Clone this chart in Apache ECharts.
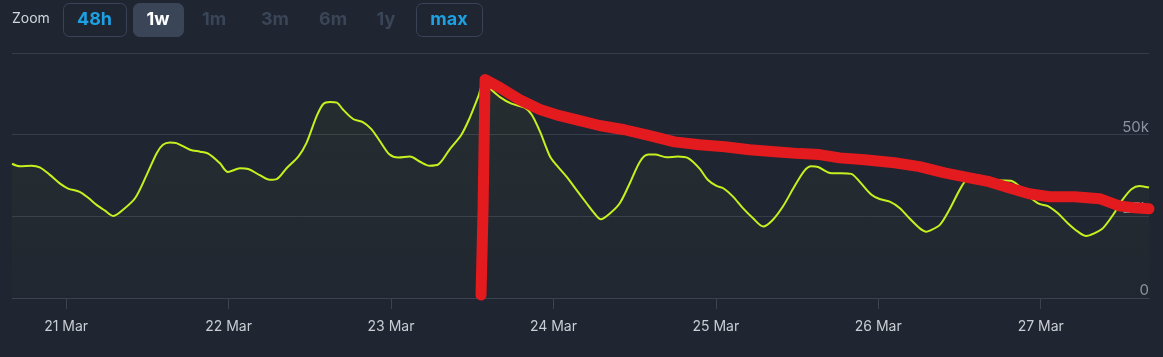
<!DOCTYPE html>
<html>
<head>
<meta charset="utf-8">
<script src="https://cdn.jsdelivr.net/npm/echarts@6/dist/echarts.min.js"></script>
<style>
  html, body { margin: 0; padding: 0; background: #1f2531; }
  #chart { width: 1163px; height: 357px; }
</style>
</head>
<body>
<div id="chart"></div>
<script>
// Hours since 20 Mar 16:00 (one-week window ending 27 Mar 16:00)
const playerHours = [0, 1.2, 2.9, 4.1, 5.6, 7.1, 8.3, 10.0, 11.3, 12.5, 13.7, 15.0, 16.4, 18.2, 19.9, 21.4, 22.3, 23.3, 24.3, 26.3, 27.8, 29.0, 30.7, 31.9, 33.7, 34.9, 36.6, 38.1, 39.1, 40.6, 42.3, 43.5, 45.0, 46.0, 47.0, 48.0, 48.9, 50.4, 51.9, 53.1, 54.4, 55.8, 57.1, 58.8, 60.3, 61.7, 63.0, 64.7, 66.4, 67.6, 68.9, 69.7, 70.7, 72.1, 73.8, 75.8, 76.8, 78.0, 79.5, 80.4, 81.9, 83.4, 84.9, 86.1, 87.0, 88.3, 89.8, 91.3, 92.8, 94.0, 95.0, 96.7, 98.4, 99.9, 101.6, 102.8, 104.1, 105.1, 106.5, 108.0, 109.5, 111.0, 112.4, 113.9, 115.6, 117.1, 118.1, 119.1, 121.1, 122.5, 124.0, 125.2, 127.0, 128.2, 129.7, 131.2, 132.6, 134.1, 135.1, 135.6, 137.1, 138.5, 140.3, 141.7, 143.0, 144.4, 146.2, 147.6, 148.9, 150.3, 151.8, 153.0, 154.5, 156.0, 157.5, 158.7, 159.9, 161.2, 162.7, 164.1, 165.4, 166.6, 168.0];
const playerCounts = [41100, 40300, 40500, 40000, 37700, 35000, 33500, 32500, 30600, 28500, 26800, 25100, 27000, 30600, 37700, 44400, 46900, 47600, 47400, 45400, 44800, 44200, 41300, 38600, 39700, 39500, 37600, 36200, 36400, 39800, 43300, 47400, 55600, 59400, 60000, 59800, 57700, 54800, 53800, 51700, 47900, 43900, 43000, 43300, 41700, 40500, 40900, 45600, 50000, 55000, 61700, 66000, 64000, 61500, 59500, 58200, 56100, 51000, 43300, 40800, 37200, 33100, 29000, 25800, 24100, 25800, 29000, 35200, 41800, 43900, 43900, 43100, 43300, 42800, 39600, 36200, 34300, 33600, 31100, 27500, 24400, 21900, 23900, 28000, 34100, 39000, 40300, 40100, 38200, 38200, 38000, 35700, 31600, 30300, 29500, 27500, 24400, 21400, 20300, 20600, 22400, 27000, 34100, 37400, 37400, 36200, 36000, 35900, 34100, 31100, 28800, 28200, 26000, 22900, 20300, 19000, 19800, 21400, 25500, 30100, 33300, 34300, 33800];

// Hand-drawn red annotation
const markHours = [69.3, 69.6, 69.9, 72.1, 75.0, 78.0, 80.9, 83.9, 86.8, 90.5, 94.2, 97.9, 101.6, 105.3, 109.0, 112.7, 116.4, 119.3, 122.3, 126.0, 130.4, 134.1, 137.8, 141.5, 144.4, 147.4, 150.3, 153.3, 157.0, 160.7, 163.6, 165.9, 168.0];
const markValues = [900, 27000, 66900, 64400, 60700, 57700, 55800, 54300, 52800, 51500, 49700, 47800, 46900, 46300, 45400, 44800, 44200, 43900, 42900, 42300, 41400, 40200, 38300, 36800, 35600, 33700, 31900, 31000, 31000, 30400, 28200, 27600, 27300];

// X tick positions (midnight of each day, in hours since window start) and labels
const dayTicks = [8, 32, 56, 80, 104, 128, 152];
const dayLabels = ['21 Mar', '22 Mar', '23 Mar', '24 Mar', '25 Mar', '26 Mar', '27 Mar'];

const yTicks = [0, 25000, 50000, 75000];
const yTickLabels = ['0', '25k', '50k', ''];

const zoomButtons = ['48h', '1w', '1m', '3m', '6m', '1y', 'max'];

const chart = echarts.init(document.getElementById('chart'), null, { renderer: 'canvas' });

const font = 'Inter, Roboto, "Noto Sans", sans-serif';

// Button graphics
const btnLayout = [
  { x: 63, w: 63, style: 'outline' },
  { x: 133, w: 50, style: 'active' },
  { x: 196, w: 36, style: 'dim' },
  { x: 256, w: 38, style: 'dim' },
  { x: 314, w: 38, style: 'dim' },
  { x: 371, w: 30, style: 'dim' },
  { x: 416, w: 66, style: 'outline' }
];
const graphics = [{
  type: 'text', x: 12, y: 19,
  style: { text: 'Zoom', fill: '#d3d7dd', font: '14px ' + font, verticalAlign: 'middle' }
}];
zoomButtons.forEach((b, i) => {
  const L = btnLayout[i];
  if (L.style !== 'dim') {
    graphics.push({
      type: 'rect',
      shape: { x: L.x + 0.5, y: 3.5, width: L.w, height: 33, r: 6 },
      style: L.style === 'active'
        ? { fill: '#3a4558', stroke: '#3a4558' }
        : { fill: 'transparent', stroke: '#3a4456', lineWidth: 1 }
    });
  }
  graphics.push({
    type: 'text',
    x: L.x + L.w / 2, y: 20,
    style: {
      text: b,
      fill: L.style === 'outline' ? '#1da1e2' : (L.style === 'active' ? '#ffffff' : '#3a4558'),
      font: 'bold 18px ' + font,
      align: 'center', verticalAlign: 'middle'
    }
  });
});

chart.setOption({
  backgroundColor: '#1f2531',
  animation: false,
  graphic: graphics,
  grid: { left: 12, right: 14, top: 53, bottom: 59 },
  xAxis: {
    type: 'value',
    min: 0, max: 168,
    axisLine: { show: true, lineStyle: { color: '#3b4353', width: 1 } },
    axisTick: { show: true, length: 11, customValues: dayTicks, lineStyle: { color: '#3b4353' } },
    splitLine: { show: false },
    axisLabel: {
      customValues: dayTicks,
      margin: 22,
      color: '#c9cdd3',
      fontFamily: font,
      fontSize: 14,
      formatter: v => dayLabels[dayTicks.indexOf(v)] || ''
    }
  },
  yAxis: {
    type: 'value',
    position: 'right',
    min: 0, max: 75000, interval: 25000,
    axisLine: { show: false },
    axisTick: { show: false },
    splitLine: { show: true, lineStyle: { color: '#363d4b', width: 1 } },
    axisLabel: {
      inside: true,
      margin: 0,
      color: '#8b93a1',
      fontFamily: font,
      fontSize: 15,
      verticalAlign: 'bottom',
      padding: [0, 0, 0, 0],
      formatter: v => yTickLabels[yTicks.indexOf(v)]
    }
  },
  series: [
    {
      type: 'line',
      data: playerHours.map((h, i) => [h, playerCounts[i]]),
      showSymbol: false,
      smooth: 0.3,
      lineStyle: { color: '#c8f01e', width: 2 },
      areaStyle: {
        color: new echarts.graphic.LinearGradient(0, 0, 0, 1, [
          { offset: 0, color: 'rgba(200,240,30,0.06)' },
          { offset: 1, color: 'rgba(200,240,30,0.015)' }
        ])
      },
      z: 2
    },
    {
      type: 'line',
      data: markHours.map((h, i) => [h, markValues[i]]),
      showSymbol: false,
      smooth: false,
      lineStyle: { color: '#e41b1e', width: 11, cap: 'round', join: 'round' },
      z: 5
    }
  ]
});
</script>
</body>
</html>
